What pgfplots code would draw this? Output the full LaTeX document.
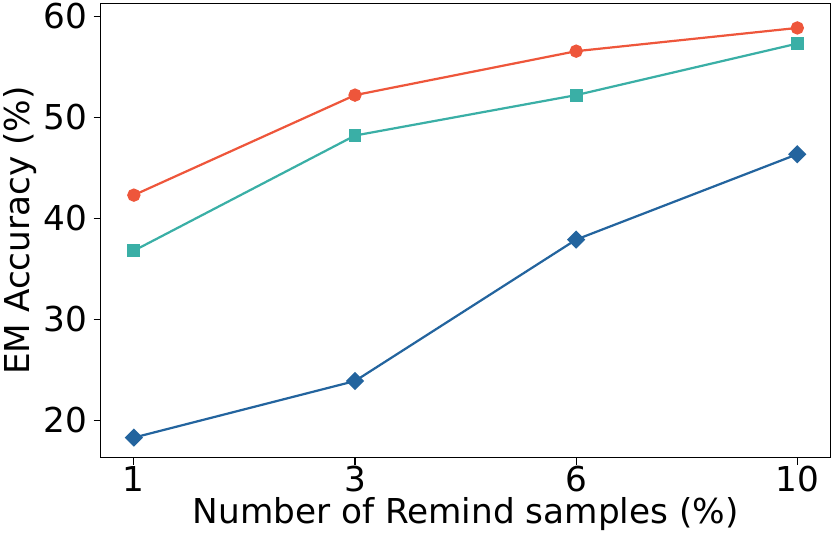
\documentclass[border=0pt]{standalone}
\usepackage{pgfplots}
\pgfplotsset{compat=1.18}
\usepackage{fontspec}
\setmainfont{DejaVu Sans}
\definecolor{cred}{HTML}{EE563B}
\definecolor{cteal}{HTML}{3AAFA6}
\definecolor{cblue}{HTML}{23649E}
\begin{document}
\begin{tikzpicture}
\begin{axis}[
    scale only axis,
    width=724pt, height=451pt,
    xmin=-0.15, xmax=3.15,
    ymin=16.3, ymax=61.3,
    xtick={0,1,2,3},
    xticklabels={1,3,6,10},
    ytick={20,30,40,50,60},
    tick style={black, line width=1pt},
    major tick length=7pt,
    tick align=outside,
    xtick pos=bottom, ytick pos=left,
    axis line style={line width=1pt},
    /pgf/number format/assume math mode=true,
    ticklabel style={font=\fontsize{34}{38}\selectfont},
    xticklabel style={yshift=2pt},
    yticklabel style={xshift=-3pt},
    xlabel={Number of Remind samples (\%)},
    ylabel={EM Accuracy (\%)},
    label style={font=\fontsize{34}{38}\selectfont},
    xlabel style={yshift=2pt},
    ylabel style={yshift=0pt},
    clip=false,
]
\addplot[color=cred, line width=2.2pt, mark=*, mark size=5.5pt]
  coordinates {(0,42.3) (1,52.2) (2,56.55) (3,58.85)};
\addplot[color=cteal, line width=2.2pt, mark=square*, mark size=5.3pt]
  coordinates {(0,36.8) (1,48.2) (2,52.2) (3,57.3)};
\addplot[color=cblue, line width=2.2pt, mark=square*, mark size=5.3pt,
    mark options={rotate=45}]
  coordinates {(0,18.3) (1,23.9) (2,37.9) (3,46.35)};
\end{axis}
\end{tikzpicture}
\end{document}
